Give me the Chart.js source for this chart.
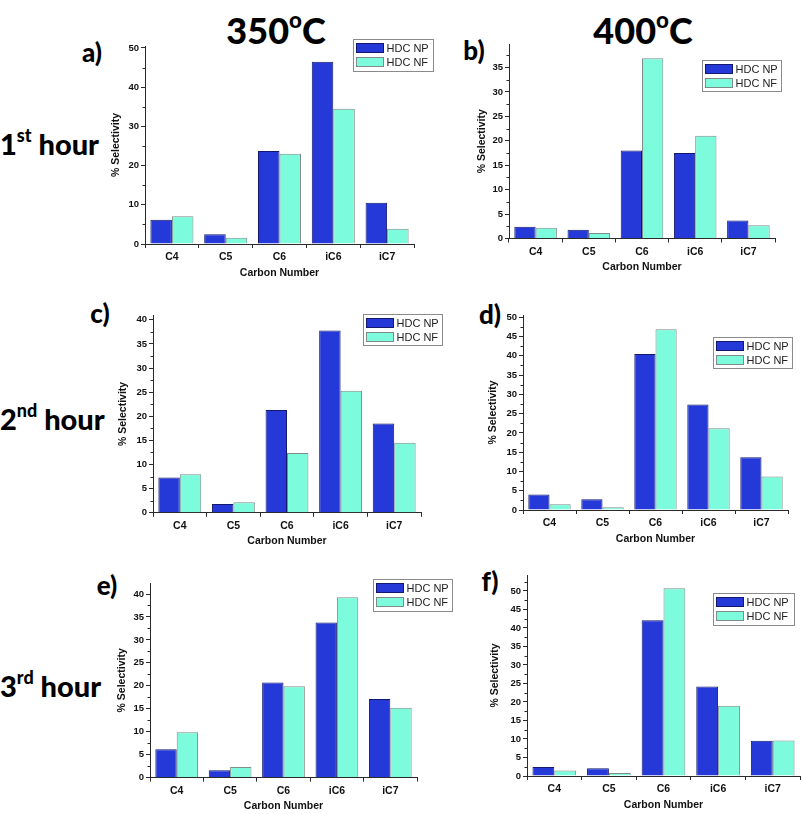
<!DOCTYPE html>
<html>
<head>
<meta charset="utf-8">
<script src="https://cdn.jsdelivr.net/npm/chart.js@4/dist/chart.umd.min.js"></script>
<style>
  html, body { margin:0; padding:0; background:#fff; width:803px; height:814px; overflow:hidden; }
  canvas { position:absolute; }
  .lbl { position:absolute; font-family:Lato, "Open Sans", sans-serif; font-weight:900; color:#000; white-space:nowrap; transform:translate(-50%,-50%); line-height:1; }
  .col { font-size:36px; }
  .row { font-size:29px; transform:translate(0,-50%); }
  .let { font-size:26px; }
  sup { font-size:0.62em; vertical-align:0.7em; line-height:0; }
</style>
</head>
<body>
<div class="lbl col" style="left:276px;top:30px;">350<sup>o</sup>C</div>
<div class="lbl col" style="left:643px;top:30px;">400<sup>o</sup>C</div>
<div class="lbl row" style="left:0px;top:143px;">1<sup>st</sup> hour</div>
<div class="lbl row" style="left:0px;top:418px;">2<sup>nd</sup> hour</div>
<div class="lbl row" style="left:0px;top:685px;">3<sup>rd</sup> hour</div>
<div class="lbl let" style="left:92px;top:52px;">a)</div>
<div class="lbl let" style="left:474px;top:50px;">b)</div>
<div class="lbl let" style="left:100px;top:313px;">c)</div>
<div class="lbl let" style="left:490px;top:314px;">d)</div>
<div class="lbl let" style="left:107px;top:585px;">e)</div>
<div class="lbl let" style="left:490px;top:581px;">f)</div>
<canvas id="ca"></canvas><canvas id="cb"></canvas><canvas id="cc"></canvas>
<canvas id="cd"></canvas><canvas id="ce"></canvas><canvas id="cf"></canvas>
<script>
// ---- data ----
const categories = ['C4', 'C5', 'C6', 'iC6', 'iC7'];
const seriesNames = ['HDC NP', 'HDC NF'];
const yTitle = '% Selectivity';
const xTitle = 'Carbon Number';

const a_np = [6.2, 2.5, 23.7, 46.5, 10.5];
const a_nf = [7.1, 1.6, 23.0, 34.5, 3.9];
const b_np = [2.4, 1.8, 18.0, 17.5, 3.7];
const b_nf = [2.2, 1.1, 36.9, 21.0, 2.7];
const c_np = [7.3, 1.8, 21.3, 37.8, 18.5];
const c_nf = [8.0, 2.2, 12.4, 25.3, 14.5];
const d_np = [4.0, 2.8, 40.5, 27.4, 13.7];
const d_nf = [1.5, 0.7, 46.9, 21.2, 8.7];
const e_np = [6.2, 1.6, 20.7, 33.8, 17.1];
const e_nf = [9.9, 2.3, 19.9, 39.3, 15.2];
const f_np = [2.4, 2.1, 42.1, 24.2, 9.5];
const f_nf = [1.5, 0.8, 50.7, 19.0, 9.6];

// y-axis maxima and tick steps
const yMax = { a: 50.5, b: 39.8, c: 41, d: 50.6, e: 42.4, f: 54.3 };
const yStep = { a: 10, b: 5, c: 5, d: 5, e: 5, f: 5 };

// ---- styling / layout ----
const NP_FILL = '#2439d8', NP_BORDER = '#14186e';
const NF_FILL = '#7cfcdc', NF_BORDER = '#7d8c88';
const AXIS = '#2a2a2a';
const TICKFONT = 'Liberation Sans, Arial, sans-serif';

const layout = {
  a: { ax:145, ar:414, top:46.0, bottom:244, legend:[353,39,80,32], titlePad:10 },
  b: { ax:509, ar:775, top:43.5, bottom:238, legend:[702,59,79,31], titlePad:12 },
  c: { ax:153, ar:421, top:314.5, bottom:512.3, legend:[363,313,79,31], titlePad:9 },
  d: { ax:523, ar:788, top:315, bottom:510, legend:[713,337,79,31], titlePad:9 },
  e: { ax:150, ar:417, top:583.4, bottom:778, legend:[373,579,79,32], titlePad:11 },
  f: { ax:527, ar:800, top:575, bottom:776, legend:[713,593,81,32], titlePad:7 }
};

const panelData = { a:[a_np,a_nf], b:[b_np,b_nf], c:[c_np,c_nf], d:[d_np,d_nf], e:[e_np,e_nf], f:[f_np,f_nf] };

const YW = 45, XH = 40, PT = 12;

const extras = {
  id: 'extras',
  afterDraw(chart, args, opts) {
    const ctx = chart.ctx;
    const ys = chart.scales.y;
    ctx.save();
    ctx.strokeStyle = AXIS;
    ctx.lineWidth = 1;
    const step = opts.step, half = step / 2;
    for (let v = half; v <= ys.max; v += step) {
      const y = Math.round(ys.getPixelForValue(v)) + 0.5;
      ctx.beginPath();
      ctx.moveTo(ys.right - 2.5, y);
      ctx.lineTo(ys.right, y);
      ctx.stroke();
    }
    const [lx, ly, lw, lh] = opts.legend;
    const ox = opts.ox, oy = opts.oy;
    const x = Math.round(lx - ox) + 0.5, y = Math.round(ly - oy) + 0.5;
    ctx.fillStyle = '#ffffff';
    ctx.fillRect(x, y, lw, lh);
    ctx.strokeStyle = '#8a8a8a';
    ctx.strokeRect(x, y, lw, lh);
    ctx.font = '11px ' + TICKFONT;
    ctx.textBaseline = 'middle';
    ctx.textAlign = 'left';
    chart.data.datasets.forEach((ds, i) => {
      const ry = y + 4 + i * 14;
      ctx.fillStyle = ds.backgroundColor;
      ctx.fillRect(x + 3, ry, 27, 9);
      ctx.strokeStyle = ds.borderColor;
      ctx.strokeRect(x + 3, ry, 27, 9);
      ctx.fillStyle = '#222';
      ctx.fillText(ds.label, x + 33, ry + 5);
    });
    ctx.restore();
  }
};

function makePanel(key) {
  const L = layout[key];
  const cx = L.ax - YW;
  const cy = L.top - PT;
  const right = Math.max(L.ar, L.legend[0] + L.legend[2]) + 6;
  const cw = Math.ceil(right - cx);
  const ch = Math.ceil(L.bottom + XH - cy);
  const canvas = document.getElementById('c' + key);
  canvas.width = cw; canvas.height = ch;
  canvas.style.left = cx + 'px';
  canvas.style.top = cy + 'px';
  canvas.style.width = cw + 'px';
  canvas.style.height = ch + 'px';
  const [np, nf] = panelData[key];
  new Chart(canvas, {
    type: 'bar',
    data: {
      labels: categories,
      datasets: [
        { label: seriesNames[0], data: np, backgroundColor: NP_FILL, borderColor: NP_BORDER, borderWidth: 1, categoryPercentage: 0.8, barPercentage: 1.0 },
        { label: seriesNames[1], data: nf, backgroundColor: NF_FILL, borderColor: NF_BORDER, borderWidth: 1, categoryPercentage: 0.8, barPercentage: 1.0 }
      ]
    },
    options: {
      responsive: false,
      animation: false,
      devicePixelRatio: 1,
      layout: { padding: { left: 0, top: PT, right: cw - (L.ar - cx), bottom: ch - (L.bottom + XH - cy) } },
      plugins: {
        legend: { display: false },
        tooltip: { enabled: false },
        extras: { legend: L.legend, ox: cx, oy: cy, step: yStep[key] }
      },
      scales: {
        x: {
          afterFit(s) { s.height = XH; },
          grid: { offset: true, drawOnChartArea: false, drawTicks: true, tickLength: 4, color: AXIS },
          border: { display: true, color: AXIS, width: 1 },
          ticks: { color: '#111', font: { family: TICKFONT, size: 10.5, weight: 'bold' }, padding: 3, maxRotation: 0 },
          title: { display: true, text: xTitle, color: '#111', font: { family: TICKFONT, size: 10.5, weight: 'bold' }, padding: { top: 0, bottom: 5 } }
        },
        y: {
          min: 0, max: yMax[key],
          afterFit(s) { s.width = YW; },
          grid: { drawOnChartArea: false, drawTicks: true, tickLength: 4, color: AXIS },
          border: { display: true, color: AXIS, width: 1 },
          ticks: { stepSize: yStep[key], includeBounds: false, color: '#111', font: { family: TICKFONT, size: 9.5, weight: 'bold' }, padding: 2 },
          title: { display: true, text: yTitle, color: '#111', font: { family: TICKFONT, size: 10.5, weight: 'bold' }, padding: { top: L.titlePad, bottom: 0 } }
        }
      }
    },
    plugins: [extras]
  });
}
['a','b','c','d','e','f'].forEach(makePanel);
</script>
</body>
</html>
